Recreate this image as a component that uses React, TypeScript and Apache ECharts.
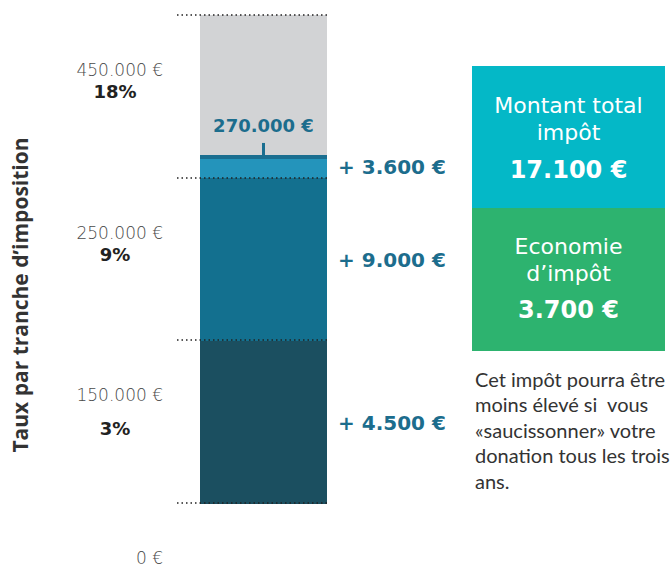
import React, { useEffect, useRef } from "react";
import * as echarts from "echarts";

// Tranche boundaries (axis labels), rates per tranche, tax per tranche
const boundLabels = ["0 €", "150.000 €", "250.000 €", "450.000 €"];
const rateLabels = ["3%", "9%", "18%"];
const taxLabels = ["+ 4.500 €", "+ 9.000 €", "+ 3.600 €"];
// Schematic segment heights, in "tranche" units (each tranche drawn equally tall)
const trancheHeights = [1, 1, 0.135];
const remainderHeight = [0.865];
const markerLabel = "270.000 €";
const barCategory = ["donation"];
const totalBox = ["Montant total", "impôt", "17.100 €"];
const savingBox = ["Economie", "d’impôt", "3.700 €"];
const noteLines = [
  "Cet impôt pourra être",
  "moins élevé si  vous",
  "«saucissonner» votre",
  "donation tous les trois",
  "ans.",
];

const segColors = ["#1B4F60", "#13708F", "#2494BB"];
const valueColor = "#1C6D8D";

export default function App() {
  const ref = useRef<HTMLDivElement>(null);
  useEffect(() => {
    if (!ref.current) return;
    const chart = echarts.init(ref.current, undefined, { renderer: "svg" });
    const markerValue = trancheHeights.reduce((a, b) => a + b, 0);
    const labelFont = {
      color: valueColor,
      fontFamily: "DejaVu Sans",
      fontWeight: "bold" as const,
      fontSize: 20,
    };
    const barSeries: any[] = trancheHeights.map((h, i) => ({
      type: "bar",
      xAxisIndex: 1,
      yAxisIndex: 2,
      stack: "t",
      barWidth: "100%",
      data: [h],
      itemStyle: { color: segColors[i] },
      label: {
        show: true,
        position: "right",
        distance: 11,
        formatter: taxLabels[i],
        ...labelFont,
      },
      z: 2,
    }));
    barSeries[2].markLine = {
      silent: true,
      symbol: "none",
      animation: false,
      z: 4,
      data: [
        {
          yAxis: markerValue,
          lineStyle: { type: "solid", width: 4, color: "#1A6E90" },
          label: { show: false },
        },
        [
          {
            coord: [0, markerValue],
            lineStyle: { type: "solid", width: 3, color: "#1A6E90" },
            label: {
              show: true,
              position: "end",
              distance: 8,
              formatter: markerLabel,
              color: valueColor,
              fontFamily: "DejaVu Sans",
              fontWeight: "bold",
              fontSize: 18,
            },
          },
          { coord: [0, markerValue + 0.08] },
        ],
      ],
    };
    const series = [
      ...barSeries,
      {
        type: "bar",
        xAxisIndex: 1,
        yAxisIndex: 2,
        stack: "t",
        barWidth: "100%",
        data: remainderHeight,
        itemStyle: { color: "#D2D3D5" },
        z: 2,
      },
      { type: "scatter", xAxisIndex: 0, yAxisIndex: 0, data: [] },
    ];

    const boxText = (text: string, y: number, size: number, weight: any = "normal") => ({
      type: "text",
      x: 568.5,
      y,
      style: {
        text,
        fill: "#ffffff",
        fontFamily: "DejaVu Sans",
        fontSize: size,
        fontWeight: weight,
        align: "center",
        verticalAlign: "middle",
      },
    });

    chart.setOption({
      animation: false,
      grid: [
        { left: 177, width: 151, top: 15, height: 489 },
        { left: 200, width: 127, top: 15, height: 489 },
      ],
      xAxis: [
        { type: "category", gridIndex: 0, data: [""], show: false },
        { type: "category", gridIndex: 1, data: barCategory, show: false },
      ],
      yAxis: [
        {
          type: "value",
          gridIndex: 0,
          min: 0,
          max: 3,
          interval: 1,
          z: 10,
          axisLine: { show: false },
          axisTick: { show: false },
          splitLine: {
            show: true,
            lineStyle: { type: [1.5, 3], width: 1.5, color: "#222" },
          },
          axisLabel: {
            formatter: (v: number) => boundLabels[v] ?? "",
            margin: 14,
            verticalAlign: "top",
            padding: [47, 0, 0, 0],
            lineHeight: 16,
            fontSize: 17,
            fontFamily: "DejaVu Sans",
            fontWeight: 200,
            color: "#4a4a4a",
          },
        },
        {
          type: "category",
          gridIndex: 0,
          data: rateLabels,
          position: "left",
          axisLine: { show: false },
          axisTick: { show: false },
          splitLine: { show: false },
          axisLabel: {
            margin: 62,
            align: "center",
            formatter: (v: string, i: number) => (i === 0 ? `{b|${v}}` : `{a|${v}}`),
            rich: {
              a: {
                fontFamily: "DejaVu Sans",
                fontWeight: "bold",
                fontSize: 18,
                color: "#222",
                padding: [0, 0, 9, 0],
              },
              b: {
                fontFamily: "DejaVu Sans",
                fontWeight: "bold",
                fontSize: 18,
                color: "#222",
                padding: [15, 0, 0, 0],
              },
            },
          },
        },
        {
          type: "value",
          gridIndex: 1,
          min: 0,
          max: 3,
          interval: 1,
          show: false,
          splitLine: { show: false },
        },
      ],
      graphic: [
        {
          type: "text",
          x: 20,
          y: 295,
          rotation: Math.PI / 2,
          style: {
            text: "Taux par tranche d’imposition",
            fill: "#333",
            fontFamily: "Open Sans",
            fontWeight: "bold",
            fontSize: 21,
            align: "center",
            verticalAlign: "middle",
          },
        },
        {
          type: "rect",
          shape: { x: 472, y: 66, width: 193, height: 142 },
          style: { fill: "#04B8C7" },
        },
        {
          type: "rect",
          shape: { x: 472, y: 208, width: 193, height: 143 },
          style: { fill: "#2DB36F" },
        },
        boxText(totalBox[0], 105, 22),
        boxText(totalBox[1], 132, 22),
        boxText(totalBox[2], 170, 24, "bold"),
        boxText(savingBox[0], 246, 22),
        boxText(savingBox[1], 273, 22),
        boxText(savingBox[2], 310, 24, "bold"),
        {
          type: "text",
          x: 475,
          y: 366,
          style: {
            text: noteLines.join("\n"),
            fill: "#333",
            fontFamily: "Lato",
            fontSize: 20,
            lineHeight: 25.5,
            align: "left",
            verticalAlign: "top",
          },
        },
      ],
      series,
    });
    return () => chart.dispose();
  }, []);
  return (
    <div
      ref={ref}
      style={{ position: "fixed", left: 0, top: 0, width: 672, height: 566, background: "#fff" }}
    />
  );
}
